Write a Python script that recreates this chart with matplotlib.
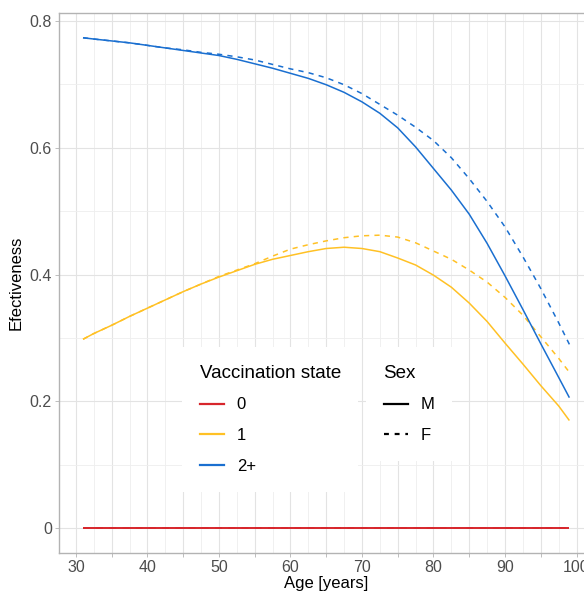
import numpy as np
import matplotlib
matplotlib.use('Agg')
from matplotlib import pyplot as plt
from matplotlib.lines import Line2D
from matplotlib.ticker import MultipleLocator, FixedLocator

plt.rcParams['font.family'] = ['Liberation Sans', 'DejaVu Sans']

# ages
age = [31, 32.5, 35, 37.5, 40, 42.5, 45, 47.5, 50, 52.5, 55, 57.5, 60, 62.5, 65,
       67.5, 70, 72.5, 75, 77.5, 80, 82.5, 85, 87.5, 90, 92.5, 95, 97.5, 99]

# vaccination state 0 (both sexes)
eff_0_m = [0] * len(age)
eff_0_f = [0] * len(age)
# vaccination state 1
eff_1_m = [.298, .307, .320, .334, .347, .360, .373, .385, .396, .406, .416, .424,
           .430, .436, .441, .443, .441, .436, .426, .415, .399, .380, .355, .326,
           .292, .259, .225, .193, .170]
eff_1_f = [.298, .307, .320, .334, .347, .360, .373, .385, .397, .407, .417, .429,
           .440, .447, .453, .458, .461, .462, .459, .450, .437, .424, .407, .388,
           .364, .336, .302, .268, .246]
# vaccination state 2+
eff_2_m = [.773, .771, .768, .765, .761, .757, .753, .749, .745, .739, .732, .725,
           .717, .709, .699, .687, .672, .654, .631, .601, .567, .533, .495, .449,
           .398, .345, .291, .238, .206]
eff_2_f = [.773, .771, .768, .765, .761, .757, .754, .750, .747, .743, .738, .731,
           .724, .718, .710, .699, .685, .668, .651, .632, .611, .584, .551, .515,
           .475, .428, .378, .324, .290]

states = ['0', '1', '2+']
sexes = ['M', 'F']
colors = {'0': '#D7262C', '1': '#FFC125', '2+': '#1A6FD0'}
series = {('0', 'M'): eff_0_m, ('0', 'F'): eff_0_f,
          ('1', 'M'): eff_1_m, ('1', 'F'): eff_1_f,
          ('2+', 'M'): eff_2_m, ('2+', 'F'): eff_2_f}

W, H = 584, 592
fig = plt.figure(figsize=(W / 100, H / 100), dpi=100)
ax = fig.add_axes([58.7 / W, 39 / H, 535 / W, 540 / H])

dash = (3.4, 3.4)
for st in states:
    for sx in sexes:
        ln, = ax.plot(age, series[(st, sx)], color=colors[st],
                      lw=1.4 if st == '0' else 1.1,
                      solid_capstyle='butt', zorder=3)
        if sx == 'F':
            ln.set_dashes(dash)

ax.set_xlim(27.6, 102.4)
ax.set_ylim(-0.0387, 0.812)

# grid: major + minor, light grey
ax.xaxis.set_major_locator(MultipleLocator(5))
ax.xaxis.set_minor_locator(FixedLocator(np.arange(27.5, 103, 5)))
ax.yaxis.set_major_locator(MultipleLocator(0.2))
ax.yaxis.set_minor_locator(FixedLocator([0.1, 0.3, 0.5, 0.7]))
ax.set_xticklabels(['%d' % t if t % 10 == 0 else '' for t in ax.get_xticks()])
ax.set_yticks([0, 0.2, 0.4, 0.6, 0.8])
ax.set_yticklabels(['0', '0.2', '0.4', '0.6', '0.8'])
ax.grid(which='major', color='#E3E3E3', lw=0.8, zorder=0)
ax.grid(which='minor', color='#EEEEEE', lw=0.6, zorder=0)
ax.set_axisbelow(True)

for sp in ax.spines.values():
    sp.set_color('#B3B3B3')
    sp.set_linewidth(1.0)
ax.tick_params(which='major', color='#B3B3B3', length=3, width=0.6,
               labelsize=11.5, labelcolor='#4D4D4D', pad=2)
ax.tick_params(which='minor', length=0)

ax.set_xlabel('Age [years]', fontsize=12, color='black', labelpad=1)
ax.set_ylabel('Efectiveness', fontsize=12, color='black', labelpad=4)

# legends
fs = 12
opts = dict(loc='upper left', bbox_transform=fig.transFigure,
            fontsize=fs, title_fontsize=13.5, alignment='left',
            frameon=True, fancybox=False, facecolor='white', edgecolor='none',
            framealpha=1, borderpad=1.05, borderaxespad=0,
            handlelength=1.45, handletextpad=0.78, labelspacing=0.95)
vh = [Line2D([], [], color=colors[s], lw=1.6) for s in states]
leg1 = ax.legend(vh, states, title='Vaccination state',
                 bbox_to_anchor=(182 / W, 1 - 347 / H), **opts)
ax.add_artist(leg1)
sh = [Line2D([], [], color='black', lw=1.6),
      Line2D([], [], color='black', lw=1.6, dashes=(2.2, 2.6))]
leg2 = ax.legend(sh, sexes, title='Sex',
                 bbox_to_anchor=(366 / W, 1 - 347 / H), **opts)
leg1.set_zorder(5)
leg2.set_zorder(5)

fig.savefig('out.png', dpi=100)
